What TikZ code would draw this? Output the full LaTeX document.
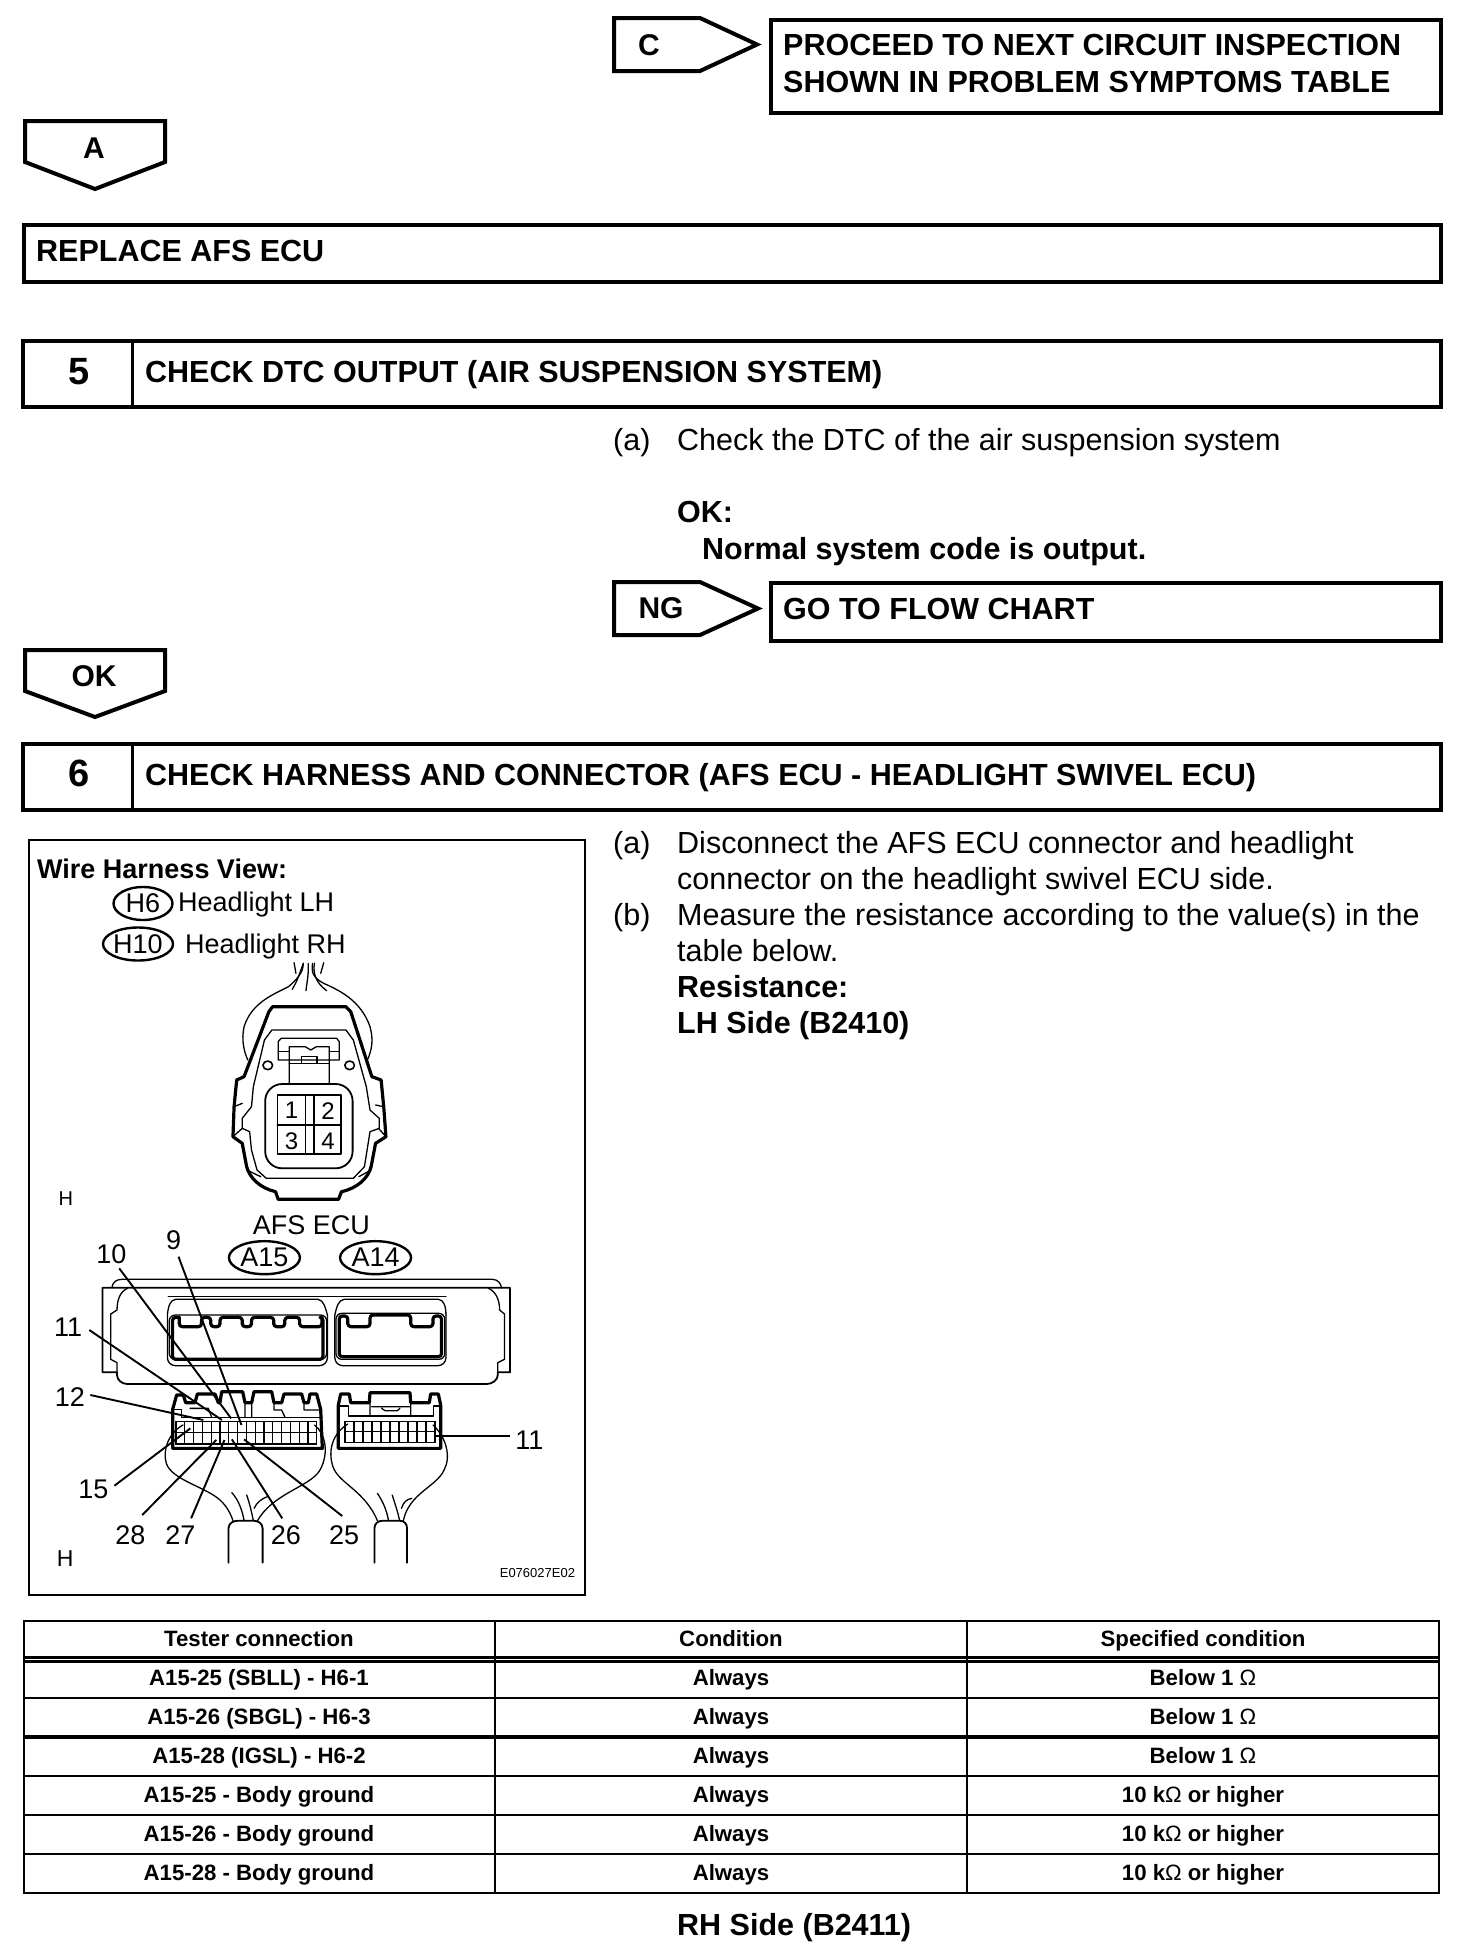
\documentclass[tikz,border=0pt]{standalone}
\usepackage{fontspec}
\setmainfont{Liberation Sans}
\usetikzlibrary{shapes.geometric}
\tikzset{
  heavy/.style={line width=4.5pt,line join=miter},
  pent/.style={line width=4pt,line join=miter},
  thinline/.style={line width=1.3pt,line join=round,line cap=round},
  boldline/.style={line width=3.2pt,line join=round,line cap=round},
  tabline/.style={line width=2.8pt},
  lead/.style={line width=1.9pt,line cap=butt},
  gridline/.style={line width=1.25pt},
  tx/.style={anchor=base west,inner sep=0pt,font=\fontsize{30.5}{36}\selectfont},
  bx/.style={anchor=base west,inner sep=0pt,font=\fontsize{30.5}{36}\selectfont\bfseries},
  mark label/.style={anchor=base,inner sep=0pt,font=\fontsize{30}{36}\selectfont\bfseries},
  bignum/.style={anchor=base,inner sep=0pt,font=\fontsize{38}{40}\selectfont\bfseries},
  fig/.style={inner sep=0pt,font=\fontsize{27}{30}\selectfont},
  figb/.style={anchor=base west,inner sep=0pt,font=\fontsize{27}{30}\selectfont\bfseries},
  pin/.style={inner sep=0pt,font=\fontsize{24}{26}\selectfont},
  oval/.style={ellipse,draw,line width=2.4pt,inner sep=0pt,font=\fontsize{27}{30}\selectfont},
  cell/.style={anchor=base,inner sep=0pt,font=\fontsize{22.2}{24}\selectfont\bfseries},
}
\newcommand{\ohm}{{\mdseries Ω}}
\begin{document}
\begin{tikzpicture}[x=1pt,y=-1pt]
\useasboundingbox (0,0) rectangle (1472,1954);
\fill[white] (0,0) rectangle (1472,1954);
% top row
\draw[pent] (614,18) -- (700,18) -- (757,44.5) -- (700,71) -- (614,71) -- cycle;
\node[mark label] (markC) at (649,55) {C};
\draw[heavy,line width=3.6pt] (771,20) rectangle (1441,113);
\node[bx] (proc1) at (783,55.5) {PROCEED TO NEXT CIRCUIT INSPECTION};
\node[bx] (proc2) at (783,92.5) {SHOWN IN PROBLEM SYMPTOMS TABLE};
\draw[pent] (25,121) -- (165,121) -- (165,162) -- (95,189) -- (25,162) -- cycle;
\node[mark label] (markA) at (94,158) {A};
\draw[heavy] (24,225) rectangle (1441,282);
\node[bx] (replace) at (36,261) {REPLACE AFS ECU};
% step 5
\draw[heavy,line width=3.6pt] (23,341) rectangle (1441,407);
\draw[heavy,line width=3pt] (132,341) -- (132,407);
\node[bignum] (num5) at (79,384) {5};
\node[bx] (head5) at (145,382.5) {CHECK DTC OUTPUT (AIR SUSPENSION SYSTEM)};
\node[tx] (a5) at (613,450) {(a)};
\node[tx] (a5t) at (677,450) {Check the DTC of the air suspension system};
\node[bx] (ok5) at (677,522) {OK:};
\node[bx] (normal) at (702,559) {Normal system code is output.};
\draw[pent] (614,582) -- (700,582) -- (758,608.5) -- (700,635) -- (614,635) -- cycle;
\node[mark label] (markNG) at (661,618) {NG};
\draw[heavy] (771,583) rectangle (1441,641);
\node[bx] (goto) at (783,619) {GO TO FLOW CHART};
\draw[pent] (25,650) -- (165,650) -- (165,691) -- (95,717) -- (25,691) -- cycle;
\node[mark label] (markOK) at (94,686) {OK};
% step 6
\draw[heavy,line width=3.6pt] (23,744) rectangle (1441,810);
\draw[heavy,line width=3pt] (132,744) -- (132,810);
\node[bignum] (num6) at (79,786) {6};
\node[bx] (head6) at (145,785) {CHECK HARNESS AND CONNECTOR (AFS ECU - HEADLIGHT SWIVEL ECU)};
\node[tx] (a6) at (613,853) {(a)};
\node[tx] (a6t) at (677,853) {Disconnect the AFS ECU connector and headlight};
\node[tx] (a6u) at (677,889) {connector on the headlight swivel ECU side.};
\node[tx] (b6) at (613,925) {(b)};
\node[tx] (b6t) at (677,925) {Measure the resistance according to the value(s) in the};
\node[tx] (b6u) at (677,961) {table below.};
\node[bx] (res) at (677,997) {Resistance:};
\node[bx] (lh) at (677,1033) {LH Side (B2410)};
% figure frame
\draw[line width=2.4pt] (29,840) rectangle (585,1595);
\node[figb] (wire) at (37,878) {Wire Harness View:};
\node[oval,minimum width=59pt,minimum height=33pt] (h6) at (143,903.5) {H6};
\node[oval,minimum width=70pt,minimum height=33pt] (h10) at (138,944) {H10};
\node[fig,anchor=base west] (hl) at (178,911) {Headlight LH};
\node[fig,anchor=base west] (hr) at (185,953) {Headlight RH};
% headlight connector, zoom 1 coordinates
\begin{scope}[xshift=20pt,yshift=-830pt,x=0.37037pt,y=-0.33333pt]
 \draw[thinline] (740,398) -- (745,430) (820,398) -- (812,430);
 \draw[thinline] (765,400) .. controls (755,430) and (750,450) .. (735,478);
 \draw[thinline] (778,400) .. controls (780,430) and (775,455) .. (772,482);
 \draw[thinline] (795,400) .. controls (790,430) and (800,460) .. (828,482);
 \draw[thinline] (790,400) .. controls (785,430) and (795,445) .. (820,460) .. controls (860,480) and (920,510) .. (945,590) .. controls (955,630) and (950,660) .. (938,690);
 \draw[thinline] (765,400) .. controls (765,430) and (745,450) .. (725,470) .. controls (680,495) and (625,520) .. (605,590) .. controls (597,630) and (605,665) .. (615,690);
 \draw[boldline] (605,740) -- (672,545) -- (682,530) -- (880,530) -- (893,545) -- (950,740);
 \draw[boldline] (605,740) -- (585,750) -- (578,830) -- (575,920) -- (600,940) -- (612,1010) .. controls (620,1045) and (650,1075) .. (690,1085) -- (697,1108) -- (860,1108) -- (868,1085) .. controls (910,1075) and (940,1045) .. (948,1010) -- (960,940) -- (988,920) -- (982,830) -- (975,750) -- (950,740);
 \draw[thinline] (680,600) -- (880,600) -- (900,630) -- (935,770) -- (945,840) -- (970,865) -- (970,895) -- (945,905) -- (930,1010) -- (900,1045) -- (665,1045) -- (640,1020) -- (625,960) -- (620,905) -- (600,895) -- (600,865) -- (625,830) -- (630,770) -- (660,630) -- cycle;
 \draw[thinline] (578,830) -- (600,820) (575,920) -- (600,895) (982,830) -- (960,825) (988,920) -- (968,895);
 \draw[thinline] (650,1040) -- (612,1020) (915,1040) -- (948,1020);
 \draw[boldline,line width=1.8pt,rounded corners=17pt] (662,762) rectangle (898,1015);
 \draw[boldline,line width=1.8pt] (695,795) rectangle (867,973);
 \draw[boldline,line width=1.8pt] (793,795) -- (793,973) (695,885) -- (867,885);
 \draw[thinline] (770,795) -- (770,973);
 \draw[thinline] (697,690) -- (697,635) -- (705,625) -- (855,625) -- (862,635) -- (862,690) -- cycle;
 \draw[thinline] (727,760) -- (727,650) -- (770,650) -- (785,660) -- (800,650) -- (835,650) -- (835,760);
 \draw[thinline] (727,700) -- (835,700);
 \draw[thinline] (760,700) -- (760,680) -- (802,680) -- (802,700);
 \draw[thinline] (697,665) -- (727,665) (835,665) -- (862,665);
 \draw[thinline,line width=1.6pt] (669,706) ellipse (13 and 13);
 \draw[thinline,line width=1.6pt] (890,706) ellipse (13 and 13);
 \node[pin] (p1) at (733,842) {1};
 \node[pin] (p2) at (832,842) {2};
 \node[pin] (p3) at (733,935) {3};
 \node[pin] (p4) at (832,935) {4};
 \node[fig,font=\fontsize{20}{22}\selectfont] (hup) at (124,1105) {H};
\end{scope}
% ECU, zoom 2 coordinates
\begin{scope}[xshift=20pt,yshift=-1200pt,x=0.37037pt,y=-0.33333pt]
 \node[fig] (afs) at (787,75) {AFS ECU};
 \node[oval,minimum width=71pt,minimum height=33pt] (a15) at (660,173) {A15};
 \node[oval,minimum width=71pt,minimum height=33pt] (a14) at (960,173) {A14};
 \draw[thinline] (248,263) .. controls (250,245) and (262,238) .. (275,238) -- (1275,238) .. controls (1290,238) and (1298,250) .. (1300,263);
 \draw[thinline,line width=1.8pt] (223,263) -- (1323,263) -- (1323,517) -- (1290,517) -- (1290,525) .. controls (1290,540) and (1275,552) .. (1260,552) -- (290,552) .. controls (275,552) and (262,540) .. (262,525) -- (262,517) -- (223,517) -- cycle;
 \draw[thinline] (290,265) .. controls (270,275) and (262,300) .. (262,330) -- (245,342) -- (245,478) -- (262,488) -- (262,517);
 \draw[thinline] (1265,265) .. controls (1285,275) and (1295,300) .. (1295,330) -- (1308,342) -- (1308,478) -- (1290,488) -- (1290,517);
 \draw[thinline] (400,290) -- (1150,290);
 \draw[thinline,rounded corners=8pt] (398,345) -- (398,497) -- (830,497) -- (830,345);
 \draw[thinline] (398,345) .. controls (400,320) and (405,300) .. (420,298) -- (805,298) .. controls (820,300) and (825,325) .. (830,345);
 \draw[thinline,rounded corners=8pt] (850,345) -- (850,497) -- (1150,497) -- (1150,345);
 \draw[thinline] (850,345) .. controls (855,320) and (860,300) .. (875,298) -- (1130,298) .. controls (1145,300) and (1150,320) .. (1150,345);
 \draw[thinline,rounded corners=6pt] (403,345) rectangle (828,478);
 \draw[boldline,rounded corners=3pt] (430,352) -- (430,380) -- (490,380) -- (490,352) -- (515,352) -- (515,380) -- (540,380) -- (540,352) -- (600,352) -- (600,380) -- (625,380) -- (625,352) -- (685,352) -- (685,380) -- (715,380) -- (715,352) -- (755,352) -- (755,380) -- (815,380) -- (815,352);
 \draw[boldline,rounded corners=3pt] (430,352) -- (412,352) -- (412,478) -- (818,478) -- (818,352) -- (815,352);
 \draw[thinline,rounded corners=6pt] (853,340) rectangle (1147,478);
 \draw[boldline,rounded corners=3pt] (862,348) -- (862,470) -- (1138,470) -- (1138,348) -- (1115,348) -- (1115,380) -- (1055,380) -- (1055,345) -- (945,345) -- (945,380) -- (885,380) -- (885,348) -- cycle;
 \draw[thinline] (440,675) .. controls (400,700) and (385,750) .. (395,790) .. controls (410,840) and (500,860) .. (540,900) .. controls (560,920) and (570,945) .. (575,962);
 \draw[thinline] (795,675) .. controls (825,700) and (835,760) .. (810,810) .. controls (785,860) and (680,880) .. (640,965);
 \draw[thinline] (572,878) .. controls (590,900) and (600,930) .. (605,962);
 \draw[thinline] (612,885) .. controls (620,910) and (625,935) .. (630,962);
 \draw[thinline] (632,925) .. controls (640,905) and (655,895) .. (668,890);
 \draw[thinline] (885,672) .. controls (845,700) and (830,750) .. (845,800) .. controls (860,850) and (930,870) .. (965,962);
 \draw[thinline] (1115,675) .. controls (1150,710) and (1165,770) .. (1145,810) .. controls (1125,860) and (1050,880) .. (1035,962);
 \draw[thinline] (965,880) .. controls (980,905) and (990,930) .. (995,962);
 \draw[thinline] (1005,885) .. controls (1012,910) and (1020,935) .. (1025,962);
 \draw[thinline] (1030,925) .. controls (1035,905) and (1045,898) .. (1058,895);
 \draw[thinline,line width=1.8pt] (563,1088) -- (563,985) .. controls (563,970) and (575,962) .. (590,962) -- (630,962) .. controls (645,962) and (655,972) .. (655,985) -- (655,1088);
 \draw[thinline,line width=1.8pt] (957,1088) -- (957,985) .. controls (957,972) and (965,962) .. (980,962) -- (1025,962) .. controls (1038,962) and (1045,972) .. (1045,985) -- (1045,1088);
 \node[fig] (l9) at (415,122) {9};
 \node[fig] (l10) at (247,162) {10};
 \node[fig] (l11a) at (130,382) {11};
 \node[fig] (l12) at (135,590) {12};
 \node[fig] (l15) at (198,868) {15};
 \node[fig] (l28) at (298,1005) {28};
 \node[fig] (l27) at (433,1005) {27};
 \node[fig] (l26) at (718,1005) {26};
 \node[fig] (l25) at (875,1005) {25};
 \node[fig] (l11b) at (1375,720) {11};
 \node[fig,font=\fontsize{23}{25}\selectfont] (hlow) at (122,1077) {H};
 \node[fig,font=\fontsize{13}{15}\selectfont] (code) at (1397,1120) {E076027E02};
\end{scope}
% plugs, zoom 4 coordinates
\begin{scope}[xshift=150pt,yshift=-1380pt,x=0.33333pt,y=-0.33333pt]
 \draw[boldline] (68,205) -- (68,88) -- (80,45) -- (100,45) -- (107,68) -- (135,68) -- (142,42) -- (195,42) -- (205,68) -- (210,68) -- (215,35) -- (278,35) -- (285,68) -- (305,68) -- (312,35) -- (365,35) -- (372,68) -- (395,68) -- (402,42) -- (455,42) -- (462,68) -- (475,68) -- (480,42) -- (500,42) -- (512,88) -- (517,205) -- cycle;
 \draw[thinline] (68,88) -- (95,88) -- (95,112) -- (517,112);
 \draw[thinline] (120,85) -- (175,85) -- (185,112) (285,68) -- (285,112) (305,68) -- (305,112) (372,68) -- (372,90) -- (395,90) -- (405,112) (462,68) -- (462,90) -- (512,90);
 \draw[gridline] (78,125) rectangle (500,192);
 \draw[gridline] (78,158) -- (500,158);
 \foreach \k in {1,...,15}{\draw[gridline] ({78+26.4*\k},125) -- ({78+26.4*\k},192);}
\end{scope}
\begin{scope}[xshift=320pt,yshift=-1380pt,x=0.33333pt,y=-0.33333pt]
 \draw[boldline] (55,205) -- (55,75) -- (62,42) -- (88,42) -- (92,68) -- (148,68) -- (150,38) -- (270,38) -- (272,68) -- (328,68) -- (332,42) -- (355,42) -- (362,75) -- (362,205) -- cycle;
 \draw[thinline] (55,78) -- (85,78) -- (85,108) -- (340,108) -- (340,78) -- (362,78);
 \draw[thinline] (150,68) -- (150,108) (272,68) -- (272,108) (155,80) -- (270,80) (185,85) -- (195,92) -- (232,92) -- (240,85);
 \draw[gridline] (75,125) rectangle (345,188);
 \draw[gridline] (75,155) -- (345,155);
 \foreach \k in {1,...,9}{\draw[gridline] ({75+27*\k},125) -- ({75+27*\k},188);}
\end{scope}
% leaders, zoom 2 coordinates
\begin{scope}[xshift=20pt,yshift=-1200pt,x=0.37037pt,y=-0.33333pt]
 \foreach \n/\ax/\ay/\bx/\by in {9/428/170/598/675,10/268/205/570/655,11/187/390/545/660,12/190/585/495/660,15/255/857/460/685,28/330/945/530/720,27/462/955/552/720,26/708/955/572/718,25/870/948/605/718,31/1322/708/1120/708}{
  \coordinate (from\n) at (\ax,\ay);
  \coordinate (to\n) at (\bx,\by);
  \draw[lead] (from\n) -- (to\n);
 }
\end{scope}
% table
\draw[tabline] (24,1621) rectangle (1439,1893);
\draw[tabline] (495,1621) -- (495,1893) (967,1621) -- (967,1893);
\draw[tabline] (24,1657.5) -- (1439,1657.5) (24,1661.5) -- (1439,1661.5);
\draw[tabline] (24,1698) -- (1439,1698);
\draw[tabline,line width=3.6pt] (24,1737) -- (1439,1737);
\draw[tabline] (24,1776) -- (1439,1776) (24,1815) -- (1439,1815) (24,1854) -- (1439,1854);
\node[cell] (c11) at (259,1646.5) {Tester connection};
\node[cell] (c12) at (731,1646.5) {Condition};
\node[cell] (c13) at (1203,1646.5) {Specified condition};
\node[cell] (c21) at (259,1685) {A15-25 (SBLL) - H6-1};
\node[cell] (c22) at (731,1685) {Always};
\node[cell] (c23) at (1203,1685) {Below 1 \ohm};
\node[cell] (c31) at (259,1724) {A15-26 (SBGL) - H6-3};
\node[cell] (c32) at (731,1724) {Always};
\node[cell] (c33) at (1203,1724) {Below 1 \ohm};
\node[cell] (c41) at (259,1763) {A15-28 (IGSL) - H6-2};
\node[cell] (c42) at (731,1763) {Always};
\node[cell] (c43) at (1203,1763) {Below 1 \ohm};
\node[cell] (c51) at (259,1802) {A15-25 - Body ground};
\node[cell] (c52) at (731,1802) {Always};
\node[cell] (c53) at (1203,1802) {10 k\ohm{} or higher};
\node[cell] (c61) at (259,1841) {A15-26 - Body ground};
\node[cell] (c62) at (731,1841) {Always};
\node[cell] (c63) at (1203,1841) {10 k\ohm{} or higher};
\node[cell] (c71) at (259,1880) {A15-28 - Body ground};
\node[cell] (c72) at (731,1880) {Always};
\node[cell] (c73) at (1203,1880) {10 k\ohm{} or higher};
\node[bx] (rh) at (677,1935) {RH Side (B2411)};
\end{tikzpicture}
\end{document}
